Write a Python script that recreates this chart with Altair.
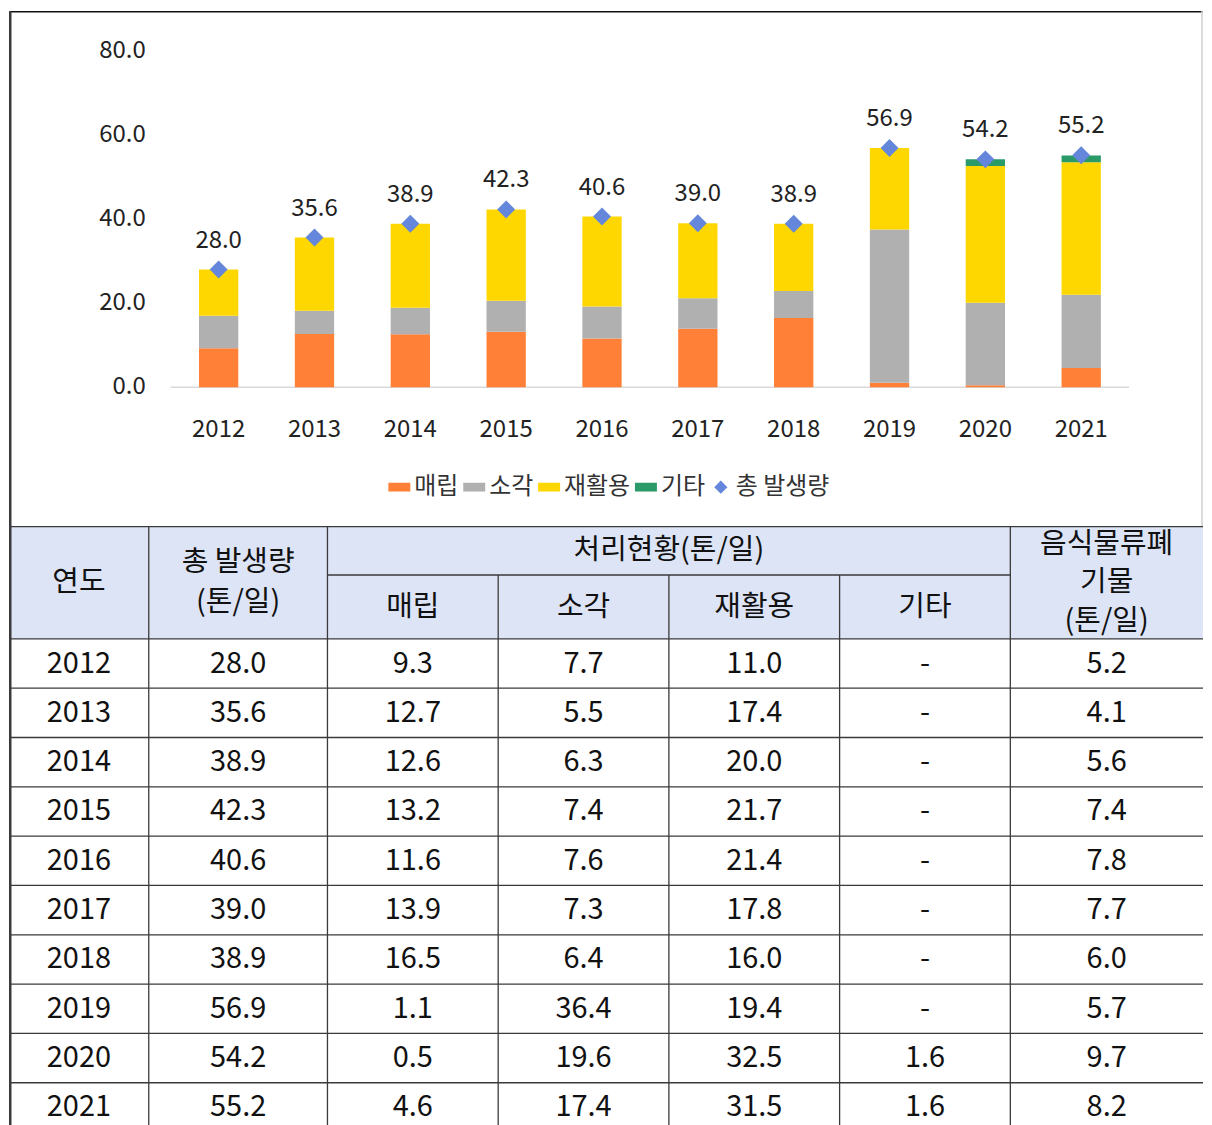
import altair as alt
import pandas as pd

# ---------------- data ----------------
years = ["2012", "2013", "2014", "2015", "2016", "2017", "2018", "2019", "2020", "2021"]
total = [28.0, 35.6, 38.9, 42.3, 40.6, 39.0, 38.9, 56.9, 54.2, 55.2]
landfill = [9.3, 12.7, 12.6, 13.2, 11.6, 13.9, 16.5, 1.1, 0.5, 4.6]
incineration = [7.7, 5.5, 6.3, 7.4, 7.6, 7.3, 6.4, 36.4, 19.6, 17.4]
recycling = [11.0, 17.4, 20.0, 21.7, 21.4, 17.8, 16.0, 19.4, 32.5, 31.5]
other = [None, None, None, None, None, None, None, None, 1.6, 1.6]
food = [5.2, 4.1, 5.6, 7.4, 7.8, 7.7, 6.0, 5.7, 9.7, 8.2]
series_names = ["매립", "소각", "재활용", "기타"]
total_name = "총 발생량"
y_ticks = [0, 20, 40, 60, 80]

header_texts = ["연도", "총 발생량", "(톤/일)", "처리현황(톤/일)", "매립", "소각", "재활용", "기타",
                "음식물류폐", "기물", "(톤/일)"]

# ---------------- layout / style ----------------
FONT = "Noto Sans CJK KR"
W = 1196
H_TOP = 516
H_TAB = 601
PLOT_L, PLOT_R = 162, 1122
Y0_PX, YMAX_PX = 377, 40
COLORS = ["#FF8036", "#B0B0B0", "#FFD700", "#2A9A68", "#6487DC"]
RECT = "M-1,-0.4H1V0.4H-1Z"
DIAMOND = "M-0.6,0L0,-0.6L0.6,0L0,0.6Z"
LABEL_FS = 24
TABLE_FS = 29
HEADER_FS = 29
COL_EDGES = [0, 140, 319, 490, 661, 832, 1003, W]
HDR1 = 49
HDR_H = 113
ROW_H = 49.4
LINE_C = "#3a3a3a"

# ---------------- chart panel ----------------
bar_rows = []
for i, yr in enumerate(years):
    for k, (name, vals) in enumerate(zip(series_names, [landfill, incineration, recycling, other])):
        if vals[i] is None:
            continue
        bar_rows.append({"year": yr, "category": name, "value": vals[i], "ord": k})
bars_df = pd.DataFrame(bar_rows)
tot_df = pd.DataFrame({"year": years, "total": total, "category": [total_name] * len(years)})
ticks_df = pd.DataFrame({"v": y_ticks})
one_df = pd.DataFrame({"k": [0]})

x_scale = alt.Scale(domain=years, range=[PLOT_L, PLOT_R], paddingInner=0.59, paddingOuter=0.295)
y_scale = alt.Scale(domain=[0, 80], range=[Y0_PX, YMAX_PX], nice=False, zero=False)
all_cats = series_names + [total_name]
color_scale = alt.Scale(domain=all_cats, range=COLORS)
shape_scale = alt.Scale(domain=all_cats, range=[RECT, RECT, RECT, RECT, DIAMOND])

def make_legend():
    return alt.Legend(orient="none", legendX=379, legendY=465, direction="horizontal", title=None,
                      labelFont=FONT, labelFontSize=LABEL_FS, labelColor="#333333",
                      symbolSize=484, symbolStrokeWidth=0, labelOffset=3, columnPadding=3,
                      padding=0, labelLimit=400, symbolOpacity=1)

bars = alt.Chart(bars_df).mark_bar().encode(
    x=alt.X("year:N", scale=x_scale, axis=None),
    y=alt.Y("value:Q", stack="zero", scale=y_scale, axis=None),
    color=alt.Color("category:N", scale=color_scale, legend=make_legend()),
    order=alt.Order("ord:Q"),
)

points = alt.Chart(tot_df).mark_point(filled=True, size=900, opacity=1).encode(
    x=alt.X("year:N", scale=x_scale, axis=None),
    y=alt.Y("total:Q", scale=y_scale, axis=None),
    color=alt.Color("category:N", scale=color_scale, legend=make_legend()),
    shape=alt.Shape("category:N", scale=shape_scale, legend=make_legend()),
)

val_labels = alt.Chart(tot_df).mark_text(font=FONT, fontSize=LABEL_FS, color="#222222",
                                         baseline="middle", dy=-29).encode(
    x=alt.X("year:N", scale=x_scale, axis=None),
    y=alt.Y("total:Q", scale=y_scale, axis=None),
    text=alt.Text("total:Q", format=".1f"),
)

x_labels = alt.Chart(tot_df).mark_text(font=FONT, fontSize=LABEL_FS, color="#222222",
                                       baseline="middle").encode(
    x=alt.X("year:N", scale=x_scale, axis=None),
    y=alt.value(420),
    text="year:N",
)

y_labels = alt.Chart(ticks_df).mark_text(font=FONT, fontSize=LABEL_FS, color="#222222",
                                         baseline="middle", align="right").encode(
    x=alt.value(137),
    y=alt.Y("v:Q", scale=y_scale, axis=None),
    text=alt.Text("v:Q", format=".1f"),
)

axis_line = alt.Chart(one_df).mark_rule(color="#D9D9D9", strokeWidth=1.5).encode(
    x=alt.value(PLOT_L), x2=alt.value(PLOT_R), y=alt.Y("k:Q", scale=y_scale, axis=None),
)

frame_top = alt.Chart(one_df).mark_rule(color="#111111", strokeWidth=1.5).encode(
    x=alt.value(0), x2=alt.value(W), y=alt.value(0.75))
frame_left = alt.Chart(one_df).mark_rule(color="#3a3a3a", strokeWidth=2.5).encode(
    x=alt.value(1.25), y=alt.value(0), y2=alt.value(H_TOP))
frame_right = alt.Chart(one_df).mark_rule(color="#D0D0D0", strokeWidth=1.5).encode(
    x=alt.value(W - 1), y=alt.value(0), y2=alt.value(H_TOP))

top = alt.layer(frame_top, frame_left, frame_right, axis_line, bars, points, val_labels,
                x_labels, y_labels).properties(width=W, height=H_TOP)

# ---------------- table panel ----------------
tx = alt.Scale(domain=[0, W], range=[0, W], nice=False, zero=False)
ty = alt.Scale(domain=[0, H_TAB], range=[0, H_TAB], nice=False, zero=False)

def colc(c):
    return (COL_EDGES[c] + COL_EDGES[c + 1]) / 2

cells = []
for i, yr in enumerate(years):
    vals = [yr, f"{total[i]:.1f}", f"{landfill[i]:.1f}", f"{incineration[i]:.1f}",
            f"{recycling[i]:.1f}", "-" if other[i] is None else f"{other[i]:.1f}", f"{food[i]:.1f}"]
    for c, t in enumerate(vals):
        cells.append({"xc": colc(c), "yc": HDR_H + ROW_H * (i + 0.5), "t": t})
cells_df = pd.DataFrame(cells)

hdr_pos = [
    (colc(0), 56), (colc(1), 36), (colc(1), 76),
    ((COL_EDGES[2] + COL_EDGES[6]) / 2, 24),
    (colc(2), 81), (colc(3), 81), (colc(4), 81), (colc(5), 81),
    (colc(6), 17.5), (colc(6), 56), (colc(6), 95),
]
hdr_df = pd.DataFrame({"xc": [p[0] for p in hdr_pos], "yc": [p[1] for p in hdr_pos], "t": header_texts})

lines = []
lines.append({"x1": 0, "x2": W, "y1": 0.5, "y2": 0.5})
lines.append({"x1": COL_EDGES[2], "x2": COL_EDGES[6], "y1": HDR1, "y2": HDR1})
lines.append({"x1": 0, "x2": W, "y1": HDR_H, "y2": HDR_H})
for k in range(1, 10):
    yk = HDR_H + ROW_H * k
    lines.append({"x1": 0, "x2": W, "y1": yk, "y2": yk})
for c in [1, 2, 6]:
    lines.append({"x1": COL_EDGES[c], "x2": COL_EDGES[c], "y1": 0, "y2": H_TAB})
for c in [3, 4, 5]:
    lines.append({"x1": COL_EDGES[c], "x2": COL_EDGES[c], "y1": HDR1, "y2": H_TAB})
lines_df = pd.DataFrame(lines)

hdr_fill = alt.Chart(pd.DataFrame({"x1": [0], "x2": [W], "y1": [0], "y2": [HDR_H]})).mark_rect(
    color="#DDE4F6").encode(
    x=alt.X("x1:Q", scale=tx, axis=None), x2="x2:Q",
    y=alt.Y("y1:Q", scale=ty, axis=None), y2="y2:Q",
)
tab_lines = alt.Chart(lines_df).mark_rule(color=LINE_C, strokeWidth=1.3, clip=True).encode(
    x=alt.X("x1:Q", scale=tx, axis=None), x2="x2:Q",
    y=alt.Y("y1:Q", scale=ty, axis=None), y2="y2:Q",
)
tab_left = alt.Chart(one_df).mark_rule(color="#3a3a3a", strokeWidth=2.5).encode(
    x=alt.value(1.25), y=alt.value(0), y2=alt.value(H_TAB))
hdr_text = alt.Chart(hdr_df).mark_text(font=FONT, fontSize=HEADER_FS, color="#111111",
                                       baseline="middle").encode(
    x=alt.X("xc:Q", scale=tx, axis=None), y=alt.Y("yc:Q", scale=ty, axis=None), text="t:N",
)
cell_text = alt.Chart(cells_df).mark_text(font=FONT, fontSize=TABLE_FS, color="#111111",
                                          baseline="middle").encode(
    x=alt.X("xc:Q", scale=tx, axis=None), y=alt.Y("yc:Q", scale=ty, axis=None), text="t:N",
)

table = alt.layer(hdr_fill, tab_lines, tab_left, hdr_text, cell_text).properties(width=W, height=H_TAB)

chart = alt.vconcat(top, table, spacing=0, bounds="flush").properties(padding=0).configure_view(
    strokeWidth=0)

chart.save("out.html", embed_options={"renderer": "svg", "actions": False})
